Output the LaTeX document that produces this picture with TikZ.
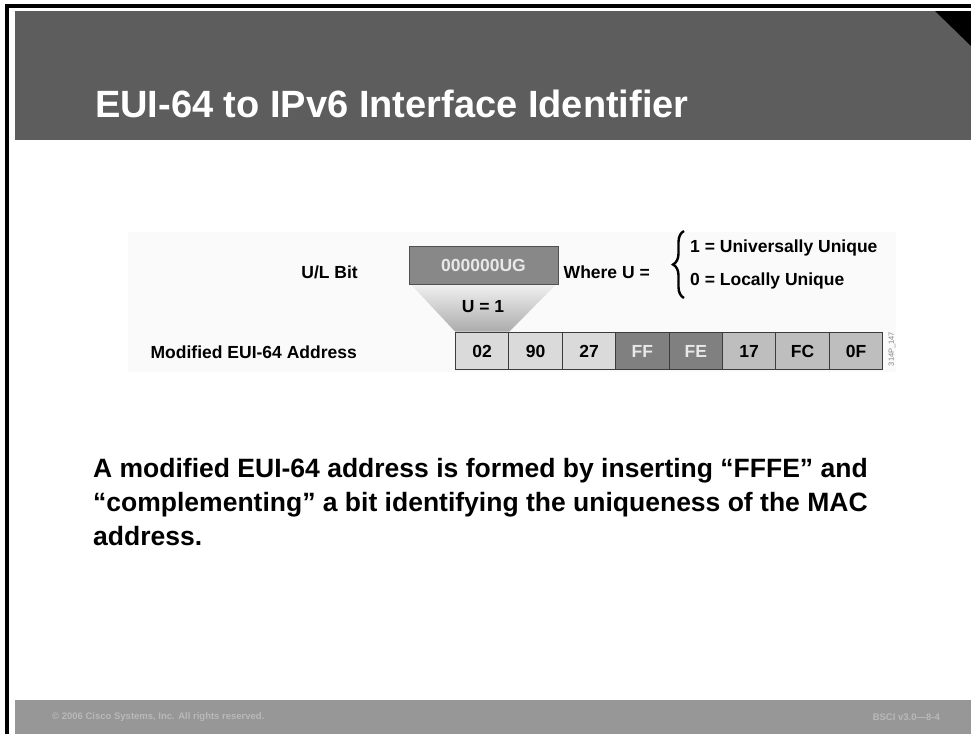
\documentclass[tikz,border=0pt]{standalone}
\usepackage{fontspec}
\setmainfont{Liberation Sans}
\usetikzlibrary{decorations.pathreplacing}
\definecolor{titlegray}{RGB}{93,93,93}
\definecolor{footgray}{RGB}{151,151,151}
\definecolor{foottext}{RGB}{185,185,185}
\definecolor{figtint}{RGB}{250,250,250}
\definecolor{ugfill}{RGB}{136,136,136}
\definecolor{ugline}{RGB}{80,80,80}
\definecolor{ugtext}{RGB}{232,232,232}
\definecolor{celllight}{RGB}{218,218,218}
\definecolor{cellmid}{RGB}{190,190,190}
\definecolor{celldark}{RGB}{128,128,128}
\definecolor{cellline}{RGB}{60,60,60}

\begin{document}
\begin{tikzpicture}[x=1pt, y=-1pt,
  lbl/.style={font=\fontsize{17.5}{20}\selectfont\bfseries, inner sep=0pt},
  ugbox/.style={draw=ugline, line width=1pt, fill=ugfill, text=ugtext,
              minimum width=149pt, minimum height=38pt, inner sep=0pt,
              font=\fontsize{17.5}{20}\selectfont\bfseries},
  cellbox/.style={draw=cellline, line width=1pt, minimum width=53.4pt,
              minimum height=37pt, inner sep=0pt, anchor=north west,
              font=\fontsize{17.5}{20}\selectfont\bfseries},
  foot/.style={font=\fontsize{9.5}{11}\selectfont\bfseries, text=foottext, inner sep=0pt}
]
\useasboundingbox (0,0) rectangle (971,734);
\fill[white] (0,0) rectangle (971,734);
\fill[titlegray] (15,11) rectangle (971,140);
\fill[black] (935,11) -- (971,11) -- (971,46) -- cycle;
\fill[footgray] (15,700) rectangle (971,734);
\fill[black] (5,4) rectangle (971,8);
\fill[black] (5,4) rectangle (9,734);
\fill[figtint] (128,232) rectangle (896,372);

\node[anchor=base west, font=\fontsize{38}{40}\selectfont\bfseries, text=white, inner sep=0pt]
  (title) at (95,117) {EUI-64 to IPv6 Interface Identifier};

\node[lbl, anchor=east] (ulbit) at (358,272) {U/L Bit};
\node[ugbox] (ug) at (483.5,265) {000000UG};
\node[lbl, anchor=east] (where) at (650,272) {Where U =};
\node[lbl, anchor=west] (univ) at (690,248) {1 = Universally Unique};
\node[lbl, anchor=west] (local) at (690,281) {0 = Locally Unique};
\coordinate (bracebot) at (684,298);
\coordinate (bracetop) at (684,231);
\draw[decorate, decoration={brace, amplitude=11pt}, line width=2.4pt] (bracebot) -- (bracetop);

\node[lbl, anchor=east] (modaddr) at (357,352) {Modified EUI-64 Address};
\foreach \txt/\col/\tc [count=\i] in {02/celllight/black, 90/celllight/black, 27/celllight/black,
    FF/celldark/ugtext, FE/celldark/ugtext, 17/cellmid/black, FC/cellmid/black, 0F/cellmid/black}
  \node[cellbox, fill=\col, text=\tc] (cell\i) at ({455+(\i-1)*53.4},332) {\txt};

\shade[top color=gray!12, bottom color=gray!65]
  ([xshift=3pt,yshift=-0.5pt]ug.south west) -- ([xshift=-3pt,yshift=-0.5pt]ug.south east)
  -- ([yshift=0.5pt]cell1.north east) -- ([yshift=0.5pt]cell1.north west) -- cycle;
\node[lbl] (uone) at (483,307) {U = 1};

\node[font=\fontsize{7.5}{8}\selectfont, text=gray, rotate=90, inner sep=0pt] (figid) at (892,349) {314P\_147};

\node[anchor=north west, align=left, font=\fontsize{26.5}{34}\selectfont\bfseries, inner sep=0pt]
  (note) at (93,458) {A modified EUI-64 address is formed by inserting “FFFE” and\\
  “complementing” a bit identifying the uniqueness of the MAC\\address.};

\node[foot, anchor=west] (copy) at (52,717) {© 2006 Cisco Systems, Inc. All rights reserved.};
\node[foot, anchor=east] (ver) at (940,717) {BSCI v3.0—8-4};
\end{tikzpicture}
\end{document}
